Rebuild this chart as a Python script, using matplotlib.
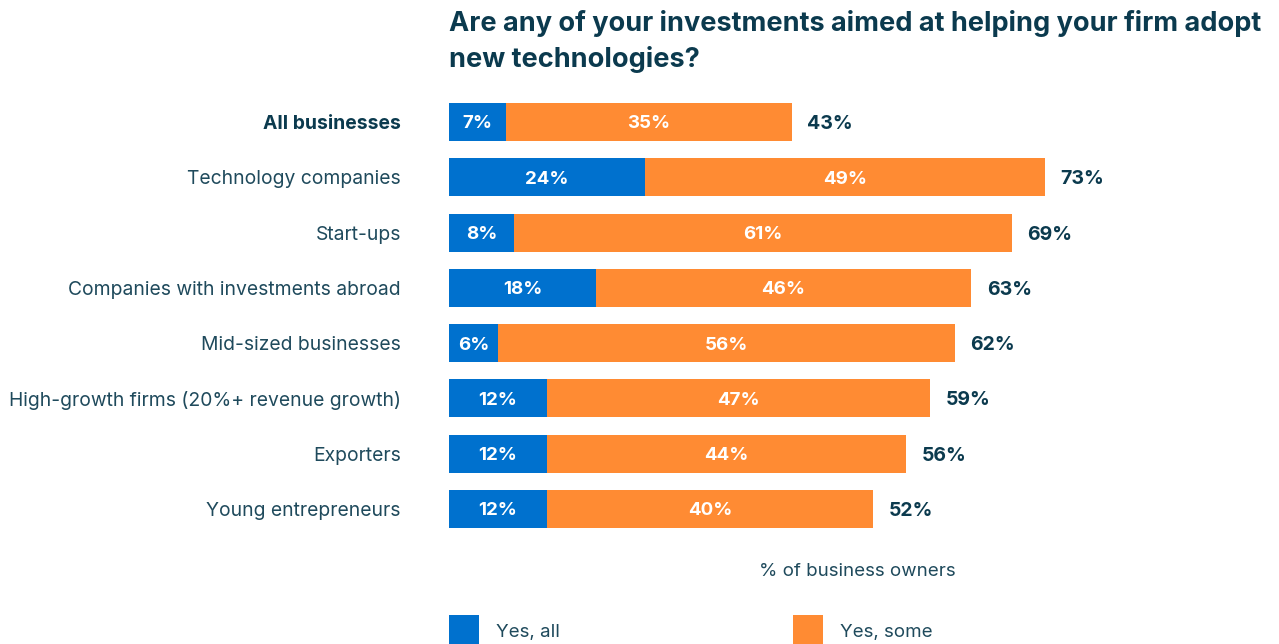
import matplotlib.pyplot as plt
import numpy as np

categories = ["All businesses", "Technology companies", "Start-ups",
              "Companies with investments abroad", "Mid-sized businesses",
              "High-growth firms (20%+ revenue growth)", "Exporters",
              "Young entrepreneurs"]
yes_all = [7, 24, 8, 18, 6, 12, 12, 12]
yes_some = [35, 49, 61, 46, 56, 47, 44, 40]
totals = [43, 73, 69, 63, 62, 59, 56, 52]

BLUE = "#0071CE"
ORANGE = "#FF8B33"
DARK = "#0B3A4E"
LABEL = "#1F4A5C"

plt.rcParams['font.family'] = ['Inter', 'DejaVu Sans']

W, H = 1279, 644
fig = plt.figure(figsize=(W / 100, H / 100), dpi=100)
fig.patch.set_facecolor("white")

# axes placed in pixel terms: x 0..100% spans 816 px from x=449
top_px, bot_px = 94.4, 536.6
ax = fig.add_axes([449 / W, (H - bot_px) / H, 816 / W, (bot_px - top_px) / H])
ax.set_xlim(0, 100)
ax.set_ylim(7.5, -0.5)
ax.axis("off")

y = np.arange(len(categories))
bh = 0.69
ax.barh(y, yes_all, height=bh, color=BLUE, linewidth=0)
ax.barh(y, yes_some, left=yes_all, height=bh, color=ORANGE, linewidth=0)

dy = 0.035  # nudge text down to sit optically centred
for i, (a, s, t) in enumerate(zip(yes_all, yes_some, totals)):
    ax.text(a / 2, i + dy, f"{a}%", ha="center", va="center", color="white",
            fontsize=13.5, fontweight="bold")
    ax.text(a + s / 2, i + dy, f"{s}%", ha="center", va="center", color="white",
            fontsize=13.5, fontweight="bold")
    ax.text(a + s + 1.9, i + dy, f"{t}%", ha="left", va="center", color=DARK,
            fontsize=14, fontweight="bold")
    ax.text(-5.9, i + dy, categories[i], ha="right", va="center",
            color=DARK if i == 0 else LABEL, fontsize=13.9,
            fontweight="bold" if i == 0 else "normal")

fig.text(449 / W, 1 - 10 / H, "Are any of your investments aimed at helping your firm adopt\nnew technologies?",
         ha="left", va="top", fontsize=19.5, fontweight="bold", color=DARK,
         linespacing=1.42)

fig.text(857 / W, 1 - 572 / H, "% of business owners", ha="center", va="center",
         fontsize=13.5, color=LABEL)

# legend swatches along the bottom edge
for x0, col, lab in [(449, BLUE, "Yes, all"), (793, ORANGE, "Yes, some")]:
    fig.patches.append(plt.Rectangle((x0 / W, 0), 30 / W, (H - 615) / H,
                                     transform=fig.transFigure, color=col,
                                     linewidth=0))
    fig.text((x0 + 47) / W, 1 - 633 / H, lab, ha="left", va="center",
             fontsize=13.5, color=LABEL)

fig.savefig("out.png", dpi=100)
